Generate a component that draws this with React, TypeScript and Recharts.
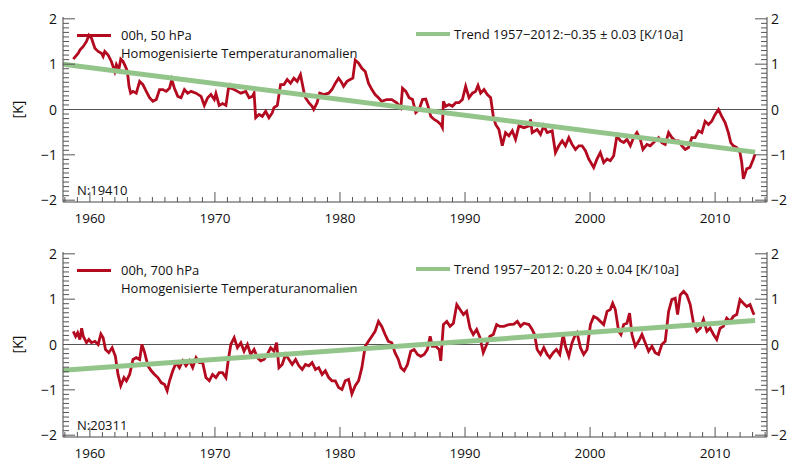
import { Legend, Line, LineChart, ReferenceLine, XAxis, YAxis } from 'recharts';

// x positions are decimal years, values in K
const topYears = [
  1958.67, 1959.07, 1959.2, 1959.47, 1959.73, 1959.92, 1960.13, 1960.4, 1960.66, 1960.93, 1961.06, 1961.19,
  1961.46, 1961.72, 1961.99, 1962.12, 1962.31, 1962.47, 1962.65, 1962.84, 1963.0, 1963.13, 1963.26, 1963.45,
  1963.71, 1963.98, 1964.24, 1964.51, 1964.77, 1965.04, 1965.31, 1965.57, 1965.84, 1966.1, 1966.37, 1966.55,
  1966.76, 1967.03, 1967.29, 1967.56, 1967.82, 1968.09, 1968.49, 1968.89, 1969.15, 1969.42, 1969.68, 1969.95,
  1970.08, 1970.34, 1970.61, 1970.88, 1971.14, 1971.27, 1971.54, 1971.8, 1972.07, 1972.47, 1972.73, 1973.0,
  1973.13, 1973.26, 1973.53, 1973.79, 1974.06, 1974.32, 1974.59, 1974.72, 1974.99, 1975.25, 1975.52, 1975.78,
  1976.05, 1976.31, 1976.58, 1976.84, 1977.11, 1977.24, 1977.51, 1977.77, 1977.9, 1978.17, 1978.38, 1978.7,
  1979.1, 1979.36, 1979.63, 1979.89, 1980.08, 1980.29, 1980.56, 1980.82, 1981.03, 1981.22, 1981.49, 1981.75,
  1982.02, 1982.28, 1982.55, 1982.81, 1983.08, 1983.34, 1983.74, 1984.14, 1984.54, 1984.87, 1985.0, 1985.27,
  1985.53, 1985.8, 1986.06, 1986.33, 1986.6, 1986.86, 1987.05, 1987.26, 1987.53, 1987.79, 1988.06, 1988.19,
  1988.27, 1988.46, 1988.72, 1988.99, 1989.26, 1989.52, 1989.79, 1990.05, 1990.32, 1990.59, 1990.85, 1991.04,
  1991.25, 1991.52, 1991.78, 1992.05, 1992.26, 1992.45, 1992.71, 1992.98, 1993.24, 1993.51, 1993.78, 1994.04,
  1994.31, 1994.71, 1995.11, 1995.24, 1995.37, 1995.77, 1996.04, 1996.3, 1996.57, 1996.97, 1997.23, 1997.5,
  1997.77, 1998.03, 1998.3, 1998.56, 1998.83, 1999.1, 1999.36, 1999.63, 1999.89, 2000.29, 2000.56, 2000.82,
  2001.09, 2001.36, 2001.62, 2001.89, 2002.15, 2002.42, 2002.69, 2002.95, 2003.22, 2003.48, 2003.75, 2004.02,
  2004.23, 2004.55, 2004.81, 2005.08, 2005.48, 2005.74, 2006.01, 2006.28, 2006.54, 2006.81, 2007.07, 2007.34,
  2007.61, 2007.87, 2008.14, 2008.4, 2008.67, 2008.94, 2009.2, 2009.47, 2009.73, 2010.0, 2010.27, 2010.53,
  2010.8, 2011.06, 2011.25, 2011.46, 2011.73, 2011.99, 2012.13, 2012.26, 2012.53, 2012.79, 2013.06, 2013.19,
];
const topAnomaly = [
  1.11, 1.24, 1.31, 1.39, 1.5, 1.64, 1.57, 1.35, 1.28, 1.24, 1.17, 1.28,
  1.2, 1.06, 0.84, 0.99, 0.88, 1.11, 1.06, 0.95, 0.84, 0.51, 0.36, 0.4,
  0.36, 0.62, 0.55, 0.4, 0.26, 0.18, 0.22, 0.44, 0.44, 0.4, 0.47, 0.66,
  0.47, 0.29, 0.26, 0.44, 0.36, 0.4, 0.36, 0.29, 0.09, 0.26, 0.33, 0.22,
  0.35, 0.09, 0.13, 0.09, 0.58, 0.47, 0.44, 0.4, 0.36, 0.4, 0.26, 0.29,
  0.36, -0.18, -0.11, -0.15, -0.04, -0.18, -0.07, 0.04, 0.09, 0.55, 0.55, 0.66,
  0.58, 0.69, 0.62, 0.77, 0.4, 0.26, 0.15, 0.07, 0.0, 0.15, 0.36, 0.33,
  0.36, 0.44, 0.58, 0.69, 0.62, 0.51, 0.62, 0.66, 0.69, 1.09, 1.02, 0.91,
  0.84, 0.58, 0.44, 0.33, 0.26, 0.18, 0.22, 0.22, 0.15, 0.04, 0.47, 0.4,
  0.26, 0.22, -0.07, 0.0, 0.22, 0.23, 0.07, -0.15, -0.22, -0.26, -0.33, -0.4,
  0.18, 0.07, 0.11, 0.07, 0.15, 0.15, 0.22, 0.51, 0.26, 0.36, 0.4, 0.53,
  0.36, 0.44, 0.33, 0.26, -0.15, -0.33, -0.44, -0.8, -0.51, -0.58, -0.47, -0.66,
  -0.36, -0.4, -0.36, -0.22, -0.51, -0.44, -0.55, -0.36, -0.51, -0.47, -0.95, -0.8,
  -0.69, -0.8, -0.62, -0.77, -0.88, -0.8, -0.8, -0.91, -1.09, -1.28, -1.09, -0.95,
  -1.17, -1.09, -1.13, -1.02, -0.58, -0.69, -0.73, -0.66, -0.8, -0.62, -0.51, -0.66,
  -0.88, -0.77, -0.8, -0.73, -0.62, -0.73, -0.77, -0.51, -0.62, -0.69, -0.69, -0.8,
  -0.88, -0.84, -0.62, -0.62, -0.47, -0.51, -0.26, -0.33, -0.26, -0.11, 0.0, -0.15,
  -0.29, -0.51, -0.73, -0.8, -0.84, -0.95, -1.17, -1.53, -1.31, -1.28, -1.09, -0.99,
];
const topTrendYears = [1957.85, 2013.2];
const topTrendValues = [1.0, -0.94];

const bottomYears = [
  1958.67, 1958.86, 1959.02, 1959.2, 1959.34, 1959.47, 1959.73, 1959.92, 1960.13, 1960.4, 1960.66, 1960.88,
  1961.06, 1961.25, 1961.51, 1961.78, 1962.04, 1962.25, 1962.47, 1962.73, 1962.92, 1963.18, 1963.45, 1963.71,
  1963.98, 1964.16, 1964.38, 1964.64, 1964.91, 1965.17, 1965.44, 1965.7, 1965.97, 1966.18, 1966.37, 1966.63,
  1966.9, 1967.16, 1967.43, 1967.69, 1967.96, 1968.22, 1968.49, 1968.75, 1969.02, 1969.28, 1969.55, 1969.81,
  1970.08, 1970.34, 1970.61, 1970.88, 1971.06, 1971.27, 1971.54, 1971.8, 1972.07, 1972.33, 1972.6, 1972.86,
  1973.13, 1973.4, 1973.66, 1973.93, 1974.19, 1974.46, 1974.72, 1974.93, 1975.12, 1975.38, 1975.65, 1975.92,
  1976.18, 1976.45, 1976.71, 1976.98, 1977.24, 1977.51, 1977.77, 1978.04, 1978.3, 1978.57, 1978.83, 1979.1,
  1979.36, 1979.63, 1979.89, 1980.16, 1980.42, 1980.69, 1980.95, 1981.22, 1981.49, 1981.75, 1982.02, 1982.28,
  1982.55, 1982.81, 1983.08, 1983.34, 1983.61, 1983.87, 1984.14, 1984.4, 1984.67, 1984.87, 1985.13, 1985.4,
  1985.66, 1985.93, 1986.2, 1986.46, 1986.73, 1986.99, 1987.21, 1987.39, 1987.66, 1987.93, 1988.06, 1988.27,
  1988.54, 1988.8, 1989.07, 1989.34, 1989.6, 1989.87, 1990.13, 1990.4, 1990.66, 1990.93, 1991.2, 1991.46,
  1991.73, 1991.99, 1992.26, 1992.53, 1992.79, 1993.11, 1993.51, 1993.91, 1994.18, 1994.44, 1994.71, 1995.11,
  1995.37, 1995.56, 1995.77, 1996.04, 1996.3, 1996.57, 1996.78, 1997.05, 1997.31, 1997.58, 1997.85, 1998.03,
  1998.3, 1998.56, 1998.83, 1998.96, 1999.23, 1999.49, 1999.76, 2000.03, 2000.29, 2000.56, 2000.82, 2001.09,
  2001.36, 2001.62, 2001.81, 2002.02, 2002.29, 2002.47, 2002.69, 2002.95, 2003.16, 2003.35, 2003.62, 2003.88,
  2004.15, 2004.41, 2004.68, 2004.95, 2005.21, 2005.48, 2005.74, 2006.01, 2006.28, 2006.54, 2006.81, 2007.0,
  2007.21, 2007.48, 2007.74, 2008.01, 2008.27, 2008.54, 2008.81, 2009.07, 2009.34, 2009.6, 2009.87, 2010.13,
  2010.4, 2010.66, 2010.93, 2011.2, 2011.46, 2011.73, 2011.99, 2012.26, 2012.53, 2012.79, 2013.06, 2013.14,
];
const bottomAnomaly = [
  0.29, 0.18, 0.26, 0.11, 0.36, 0.18, 0.04, 0.11, 0.04, 0.07, 0.0, 0.23,
  0.15, -0.11, -0.18, -0.07, -0.26, -0.66, -0.91, -0.73, -0.8, -0.66, -0.33, -0.29,
  -0.33, 0.0, -0.18, -0.47, -0.58, -0.66, -0.73, -0.84, -0.88, -1.02, -0.8, -0.58,
  -0.4, -0.51, -0.36, -0.47, -0.36, -0.51, -0.29, -0.4, -0.4, -0.73, -0.8, -0.66,
  -0.73, -0.62, -0.62, -0.73, -0.36, 0.0, 0.15, -0.07, 0.04, -0.15, 0.0, -0.22,
  -0.11, -0.29, -0.36, -0.33, -0.22, -0.07, -0.15, 0.04, -0.51, -0.44, -0.22, -0.33,
  -0.44, -0.33, -0.47, -0.55, -0.44, -0.47, -0.4, -0.55, -0.51, -0.66, -0.58, -0.73,
  -0.8, -0.8, -0.95, -0.99, -0.8, -0.77, -1.09, -0.91, -0.8, -0.51, -0.04, 0.07,
  0.18, 0.29, 0.51, 0.4, 0.22, 0.07, 0.04, -0.18, -0.33, -0.51, -0.58, -0.44,
  -0.15, -0.11, -0.22, -0.26, -0.22, -0.11, 0.18, -0.04, -0.04, -0.11, -0.36, 0.44,
  0.51, 0.4, 0.47, 0.88, 0.77, 0.66, 0.73, 0.36, 0.22, 0.33, 0.15, -0.18,
  0.0, 0.18, 0.22, 0.44, 0.4, 0.4, 0.44, 0.45, 0.51, 0.4, 0.47, 0.44,
  0.33, 0.22, -0.11, -0.22, -0.07, -0.22, -0.29, -0.18, -0.11, -0.22, 0.22, -0.04,
  -0.26, 0.04, 0.22, 0.26, -0.07, -0.22, -0.11, 0.44, 0.62, 0.58, 0.51, 0.44,
  0.73, 0.77, 0.91, 0.77, 0.29, 0.22, 0.44, 0.47, 0.69, 0.22, -0.04, 0.07,
  0.22, 0.04, -0.15, -0.04, -0.18, -0.22, 0.0, 0.07, 0.73, 0.99, 1.02, 0.66,
  1.09, 1.17, 1.09, 0.88, 0.47, 0.29, 0.36, 0.55, 0.29, 0.36, 0.22, 0.11,
  0.36, 0.4, 0.58, 0.51, 0.62, 0.66, 0.99, 0.91, 0.84, 0.88, 0.69, 0.66,
];
const bottomTrendYears = [1957.85, 2013.2];
const bottomTrendValues = [-0.57, 0.53];

const yearTicks = Array.from({ length: 57 }, (_, i) => 1958 + i);
const kelvinTicks = Array.from({ length: 41 }, (_, i) => (i - 20) / 10);

const RED = '#b30a1f';
const GREEN = '#93c58b';
const TICK = '#555';
const FONT = '"Open Sans", sans-serif';

const isMajorY = (v: number) => Math.abs(v - Math.round(v)) < 1e-6;
const fmtK = (v: number) => (v < 0 ? `\u2212${Math.abs(Math.round(v))}` : `${Math.round(v)}`);

function BottomTick({ x, y, payload }: any) {
  const v = payload.value as number;
  const major = v % 10 === 0;
  return (
    <g>
      <line x1={x} x2={x} y1={y} y2={y - (major ? 10 : 5)} stroke={TICK} />
      {major && (
        <text x={x} y={y + 21} textAnchor="middle" fontSize={13.5} fill="#111" fontFamily={FONT}>{v}</text>
      )}
    </g>
  );
}

function TopTick({ x, y, payload }: any) {
  const major = (payload.value as number) % 10 === 0;
  return <line x1={x} x2={x} y1={y} y2={y + (major ? 10 : 5)} stroke={TICK} />;
}

function LeftTick({ x, y, payload }: any) {
  const v = payload.value as number;
  const major = isMajorY(v);
  return (
    <g>
      <line x1={x} x2={x + (major ? 12 : 6)} y1={y} y2={y} stroke={TICK} />
      {major && (
        <text x={x - 6} y={y + 5} textAnchor="end" fontSize={14} fill="#111" fontFamily={FONT}>{fmtK(v)}</text>
      )}
    </g>
  );
}

function RightTick({ x, y, payload }: any) {
  const v = payload.value as number;
  const major = isMajorY(v);
  return (
    <g>
      <line x1={x} x2={x - (major ? 12 : 6)} y1={y} y2={y} stroke={TICK} />
      {major && (
        <text x={x + 4} y={y + 5} textAnchor="start" fontSize={14} fill="#111" fontFamily={FONT}>{fmtK(v)}</text>
      )}
    </g>
  );
}

function PanelLegend({ payload, subtitle, count }: any) {
  const items = payload ?? [];
  const series = items.find((p: any) => p.dataKey === 'anomaly');
  const trend = items.find((p: any) => p.dataKey === 'trend');
  const text = { position: 'absolute', fontSize: 13, lineHeight: '18px', color: '#111', whiteSpace: 'nowrap', fontFamily: FONT } as const;
  return (
    <div style={{ position: 'relative', width: 800, height: 235 }}>
      {series && (
        <>
          <div style={{ position: 'absolute', left: 77, top: 34, width: 34, height: 3, background: series.color }} />
          <div style={{ ...text, left: 121, top: 26 }}>{series.value}</div>
          <div style={{ ...text, left: 121, top: 44 }}>{subtitle}</div>
        </>
      )}
      {trend && (
        <>
          <div style={{ position: 'absolute', left: 416, top: 32, width: 34, height: 4, background: trend.color }} />
          <div style={{ ...text, left: 454, top: 25 }}>{trend.value}</div>
        </>
      )}
      <div style={{ ...text, left: 77, top: 181 }}>{count}</div>
    </div>
  );
}

type PanelProps = {
  top: number;
  years: number[];
  values: number[];
  trendYears: number[];
  trendValues: number[];
  seriesName: string;
  trendName: string;
  count: string;
};

function Panel({ top, years, values, trendYears, trendValues, seriesName, trendName, count }: PanelProps) {
  const series = years.map((year, i) => ({ year, anomaly: values[i] }));
  const trend = trendYears.map((year, i) => ({ year, trend: trendValues[i] }));

  return (
    <div style={{ position: 'absolute', left: 0, top, width: 800, height: 235 }}>
      <LineChart width={800} height={235} margin={{ top: 17, right: 0, bottom: 0, left: 0 }} style={{ fontFamily: FONT }}>
        <XAxis xAxisId="b" dataKey="year" type="number" domain={[1957.85, 2014.15]} allowDataOverflow ticks={yearTicks} interval={0}
          height={33} tickSize={0} tickMargin={0} tickLine={false} axisLine={{ stroke: '#444' }} tick={<BottomTick />} />
        <XAxis xAxisId="t" orientation="top" dataKey="year" type="number" domain={[1957.85, 2014.15]} allowDataOverflow ticks={yearTicks}
          interval={0} height={0} tickSize={0} tickMargin={0} tickLine={false} axisLine={{ stroke: '#444' }} tick={<TopTick />} />
        <YAxis yAxisId="l" type="number" domain={[-2.04, 2.04]} allowDataOverflow ticks={kelvinTicks} interval={0} width={63}
          tickSize={0} tickMargin={0} tickLine={false} axisLine={{ stroke: '#444' }} tick={<LeftTick />}
          label={{
            content: ({ viewBox }: any) => {
              const cx = 17;
              const cy = viewBox.y + viewBox.height / 2;
              return (
                <text x={cx} y={cy} transform={`rotate(-90, ${cx}, ${cy})`} textAnchor="middle" dominantBaseline="central"
                  fontSize={14} fill="#111" fontFamily={FONT}>[K]</text>
              );
            },
          }} />
        <YAxis yAxisId="r" orientation="right" type="number" domain={[-2.04, 2.04]} allowDataOverflow ticks={kelvinTicks} interval={0}
          width={33} tickSize={0} tickMargin={0} tickLine={false} axisLine={{ stroke: '#444' }} tick={<RightTick />} />
        <ReferenceLine xAxisId="b" yAxisId="l" y={0} stroke="#555" strokeWidth={1} />
        <Line xAxisId="b" yAxisId="l" data={series} dataKey="anomaly" name={seriesName} type="linear" stroke={RED}
          strokeWidth={2.8} dot={false} isAnimationActive={false} />
        <Line xAxisId="b" yAxisId="l" data={trend} dataKey="trend" name={trendName} type="linear" stroke={GREEN}
          strokeWidth={5} dot={false} isAnimationActive={false} />
        <Legend layout="vertical" align="center" verticalAlign="middle" wrapperStyle={{ top: 0, left: 0, width: 800, height: 235 }}
          content={(props: any) => <PanelLegend {...props} subtitle="Homogenisierte Temperaturanomalien" count={count} />} />
      </LineChart>
    </div>
  );
}

export default function App() {
  return (
    <div style={{ position: 'absolute', left: 0, top: 0, width: 800, height: 471, background: '#fff', fontFamily: FONT }}>
      <Panel top={0} years={topYears} values={topAnomaly} trendYears={topTrendYears} trendValues={topTrendValues}
        seriesName="00h, 50 hPa" trendName={'Trend 1957\u22122012:\u22120.35 \u00b1 0.03 [K/10a]'} count="N:19410" />
      <Panel top={235} years={bottomYears} values={bottomAnomaly} trendYears={bottomTrendYears} trendValues={bottomTrendValues}
        seriesName="00h, 700 hPa" trendName={'Trend 1957\u22122012: 0.20 \u00b1 0.04 [K/10a]'} count="N:20311" />
    </div>
  );
}
